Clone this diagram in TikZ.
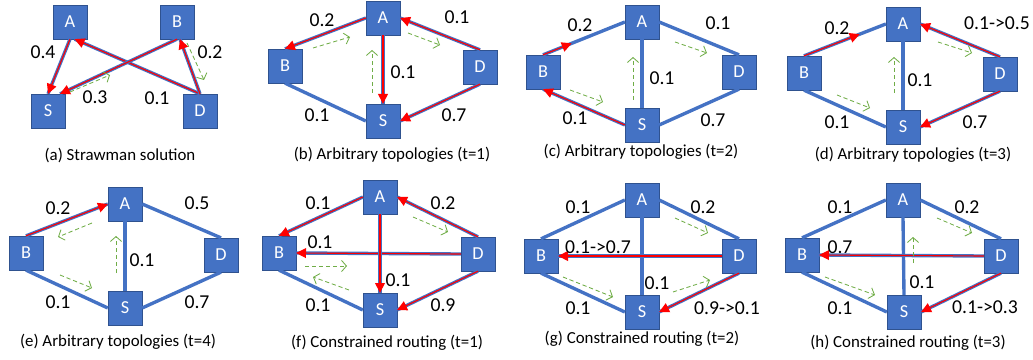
\documentclass[tikz,border=0pt]{standalone}
\usepackage{fontspec}
\setmainfont{Carlito}
\usetikzlibrary{arrows.meta,calc}
\definecolor{boxblue}{HTML}{4472C4}
\definecolor{boxedge}{HTML}{2F528F}
\definecolor{flowred}{HTML}{FF0000}
\definecolor{probegreen}{HTML}{70AD47}
\tikzset{
  router/.style={draw=boxedge, fill=boxblue, text=white, minimum width=24pt, minimum height=24pt, inner sep=0pt, font=\fontsize{13}{15}\selectfont},
  link/.style={draw=boxblue, line width=2.4pt},
  redpart/.style={draw=flowred, line width=0.8pt, -{Triangle[length=7pt,width=7pt]}},
  flow/.style={link, postaction={redpart}},
  probe/.style={draw=probegreen, line width=0.6pt, dash pattern=on 3pt off 2pt, -{Straight Barb[length=3.5pt,width=8pt]}},
  wlabel/.style={font=\fontsize{14}{16}\selectfont, inner sep=0pt},
  subcap/.style={font=\fontsize{12}{14}\selectfont, inner sep=0pt}
}
\begin{document}
\begin{tikzpicture}[x=0.025cm, y=-0.025cm]
\useasboundingbox (0,0) rectangle (1033,360);

% (a) strawman
\node[router] (A1) at (70,22) {A};
\node[router] (B1) at (177,22) {B};
\node[router] (S1) at (48,111) {S};
\node[router] (D1) at (200,111) {D};
\draw[flow] (A1.south) -- (S1.north);
\draw[flow] (D1.north) -- (A1.285);
\draw[flow] (B1.south) -- (S1.55);
\draw[flow] (D1.north) -- (B1.280);
\node[wlabel] (w1as) at (43,52) {0.4};
\node[wlabel] (w1db) at (210,52) {0.2};
\node[wlabel] (w1bs) at (95,97) {0.3};
\node[wlabel] (w1da) at (157,98) {0.1};
\draw[probe] (70,92) -- (110,75);
\draw[probe] (187,43) -- (204,80);
\node[subcap] (cap1) at (120,155) {(a) Strawman solution};

% (b) t=1
\node[router] (A2) at (383,18) {A};
\node[router] (B2) at (285,66) {B};
\node[router] (D2) at (480,67) {D};
\node[router] (S2) at (383,121) {S};
\draw[link] (B2.south) -- (S2.west);
\draw[flow] (A2.west) -- (B2.north);
\draw[flow] (A2.south) -- (S2.north);
\draw[flow] (D2.north) -- (A2.east);
\draw[flow] (D2.south) -- (S2.east);
\node[wlabel] (w2ab) at (322,20) {0.2};
\node[wlabel] (w2ad) at (457,17) {0.1};
\node[wlabel] (w2as) at (403,72) {0.1};
\node[wlabel] (w2bs) at (317,115) {0.1};
\node[wlabel] (w2ds) at (454,115) {0.7};
\draw[probe] (313,48) -- (350,37);
\draw[probe] (408,33) -- (440,45);
\draw[probe] (372,93) -- (372,50);
\node[subcap] (cap2) at (392,155) {(b) Arbitrary topologies (t=1)};

% (c) t=2
\node[router] (A3) at (642,22) {A};
\node[router] (B3) at (543,72) {B};
\node[router] (D3) at (739,72) {D};
\node[router] (S3) at (642,125) {S};
\draw[link] (A3.west) -- (B3.north);
\draw[link] (A3.south) -- (S3.north);
\draw[link] (A3.east) -- (D3.north);
\draw[link] (D3.south) -- (S3.east);
\draw[redpart] (B3.north) -- ($(B3.north)!0.35!(A3.west)$);
\draw[flow] (S3.west) -- (B3.south);
\node[wlabel] (w3ab) at (580,25) {0.2};
\node[wlabel] (w3ad) at (718,23) {0.1};
\node[wlabel] (w3as) at (662,78) {0.1};
\node[wlabel] (w3bs) at (575,118) {0.1};
\node[wlabel] (w3ds) at (713,120) {0.7};
\draw[probe] (570,90) -- (603,102);
\draw[probe] (675,42) -- (707,53);
\draw[probe] (633,100) -- (633,57);
\node[subcap] (cap3) at (641,152) {(c) Arbitrary topologies (t=2)};

% (d) t=3
\node[router] (A4) at (903,24) {A};
\node[router] (B4) at (804,73) {B};
\node[router] (D4) at (1000,74) {D};
\node[router] (S4) at (903,127) {S};
\draw[link] (A4.west) -- (B4.north);
\draw[link] (A4.south) -- (S4.north);
\draw[link] (B4.south) -- (S4.west);
\draw[redpart] (B4.north) -- ($(B4.north)!0.68!(A4.west)$);
\draw[flow] (D4.north) -- (A4.east);
\draw[flow] (D4.south) -- (S4.east);
\node[wlabel] (w4ab) at (837,28) {0.2};
\node[wlabel] (w4ad) at (997,23) {0.1->0.5};
\node[wlabel] (w4as) at (920,80) {0.1};
\node[wlabel] (w4bs) at (837,122) {0.1};
\node[wlabel] (w4ds) at (975,122) {0.7};
\draw[probe] (938,42) -- (972,53);
\draw[probe] (837,95) -- (870,108);
\draw[probe] (894,93) -- (894,57);
\node[subcap] (cap4) at (913,155) {(d) Arbitrary topologies (t=3)};

% (e) t=4
\node[router] (A5) at (125,204) {A};
\node[router] (B5) at (26,253) {B};
\node[router] (D5) at (221,255) {D};
\node[router] (S5) at (125,308) {S};
\draw[link] (A5.east) -- (D5.north);
\draw[link] (A5.south) -- (S5.north);
\draw[link] (B5.south) -- (S5.west);
\draw[link] (D5.south) -- (S5.east);
\draw[flow] (B5.north) -- (A5.west);
\node[wlabel] (w5ab) at (58,208) {0.2};
\node[wlabel] (w5ad) at (197,203) {0.5};
\node[wlabel] (w5as) at (142,260) {0.1};
\node[wlabel] (w5bs) at (58,302) {0.1};
\node[wlabel] (w5ds) at (197,302) {0.7};
\draw[probe] (92,223) -- (58,237);
\draw[probe] (60,275) -- (92,288);
\draw[probe] (116,273) -- (116,236);
\node[subcap] (cap5) at (118,342) {(e) Arbitrary topologies (t=4)};

% (f) constrained t=1
\node[router] (A6) at (380,197) {A};
\node[router] (B6) at (279,253) {B};
\node[router] (D6) at (478,254) {D};
\node[router] (S6) at (380,310) {S};
\draw[link] (B6.south) -- (S6.west);
\draw[flow] (A6.west) -- (B6.north);
\draw[flow] (D6.west) -- (B6.east);
\draw[flow] (A6.south) -- (S6.north);
\draw[flow] (D6.north) -- (A6.east);
\draw[flow] (D6.south) -- (S6.east);
\node[wlabel] (w6ab) at (318,203) {0.1};
\node[wlabel] (w6ad) at (443,203) {0.2};
\node[wlabel] (w6db) at (320,242) {0.1};
\node[wlabel] (w6as) at (398,280) {0.1};
\node[wlabel] (w6bs) at (318,305) {0.1};
\node[wlabel] (w6ds) at (443,305) {0.9};
\draw[probe] (413,217) -- (448,232);
\draw[probe] (305,266) -- (347,266);
\draw[probe] (349,290) -- (313,277);
\node[subcap] (cap6) at (387,343) {(f) Constrained routing (t=1)};

% (g) constrained t=2
\node[router] (A7) at (642,200) {A};
\node[router] (B7) at (541,256) {B};
\node[router] (D7) at (739,256) {D};
\node[router] (S7) at (642,312) {S};
\draw[link] (A7.west) -- (B7.north);
\draw[link] (A7.east) -- (D7.north);
\draw[link] (A7.south) -- (S7.north);
\draw[link] (B7.south) -- (S7.west);
\draw[flow] (D7.west) -- (B7.east);
\draw[flow] (D7.south) -- (S7.east);
\node[wlabel] (w7ab) at (578,207) {0.1};
\node[wlabel] (w7ad) at (703,207) {0.2};
\node[wlabel] (w7db) at (598,247) {0.1->0.7};
\node[wlabel] (w7as) at (657,283) {0.1};
\node[wlabel] (w7bs) at (578,308) {0.1};
\node[wlabel] (w7ds) at (727,308) {0.9->0.1};
\draw[probe] (675,218) -- (708,233);
\draw[probe] (563,277) -- (613,297);
\draw[probe] (673,292) -- (710,280);
\node[subcap] (cap7) at (642,339) {(g) Constrained routing (t=2)};

% (h) constrained t=3
\node[router] (A8) at (903,200) {A};
\node[router] (B8) at (802,255) {B};
\node[router] (D8) at (1001,256) {D};
\node[router] (S8) at (904,312) {S};
\draw[link] (A8.west) -- (B8.north);
\draw[link] (A8.east) -- (D8.north);
\draw[link] (A8.south) -- (S8.north);
\draw[link] (B8.south) -- (S8.west);
\draw[flow] (D8.west) -- (B8.east);
\draw[flow] (D8.south) -- (S8.east);
\node[wlabel] (w8ab) at (840,207) {0.1};
\node[wlabel] (w8ad) at (967,207) {0.2};
\node[wlabel] (w8db) at (840,247) {0.7};
\node[wlabel] (w8as) at (922,282) {0.1};
\node[wlabel] (w8bs) at (840,308) {0.1};
\node[wlabel] (w8ds) at (985,307) {0.1->0.3};
\draw[probe] (937,218) -- (972,233);
\draw[probe] (825,277) -- (875,295);
\draw[probe] (913,263) -- (913,237);
\node[subcap] (cap8) at (908,343) {(h) Constrained routing (t=3)};

\end{tikzpicture}
\end{document}
